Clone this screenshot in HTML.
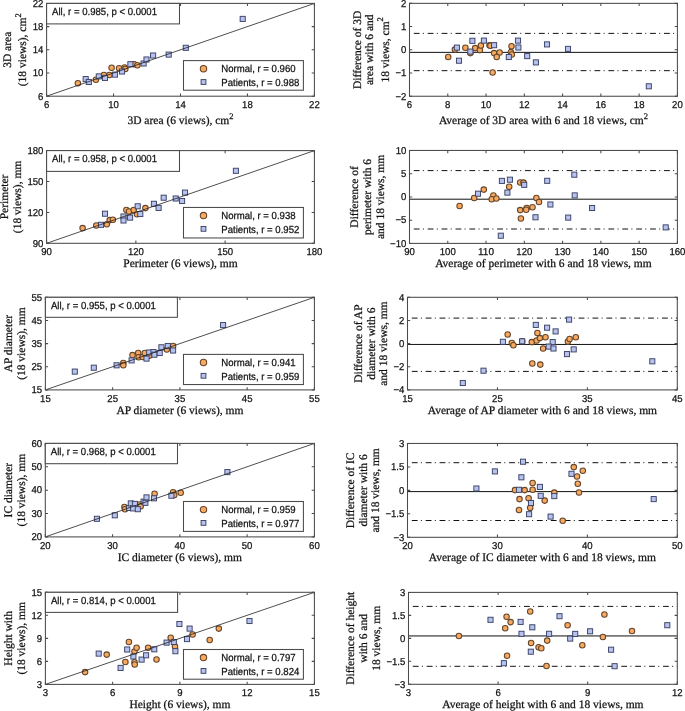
<!DOCTYPE html>
<html><head><meta charset="utf-8"><style>
html,body{margin:0;padding:0;background:#fff;}
svg{display:block;}
text{fill:#111;stroke:#111;stroke-width:0.25px;text-rendering:geometricPrecision;}
svg{will-change:transform;}
</style></head><body>
<svg width="685" height="711" viewBox="0 0 685 711">
<rect width="685" height="711" fill="#fff"/>
<circle cx="77.90" cy="83.20" r="2.75" fill="#F7A960" stroke="#64442a" stroke-width="1.05"/>
<circle cx="95.90" cy="79.70" r="2.75" fill="#F7A960" stroke="#64442a" stroke-width="1.05"/>
<circle cx="103.90" cy="75.00" r="2.75" fill="#F7A960" stroke="#64442a" stroke-width="1.05"/>
<circle cx="109.40" cy="75.00" r="2.75" fill="#F7A960" stroke="#64442a" stroke-width="1.05"/>
<circle cx="111.60" cy="67.70" r="2.75" fill="#F7A960" stroke="#64442a" stroke-width="1.05"/>
<circle cx="119.10" cy="68.20" r="2.75" fill="#F7A960" stroke="#64442a" stroke-width="1.05"/>
<circle cx="124.60" cy="67.50" r="2.75" fill="#F7A960" stroke="#64442a" stroke-width="1.05"/>
<circle cx="125.30" cy="69.00" r="2.75" fill="#F7A960" stroke="#64442a" stroke-width="1.05"/>
<circle cx="134.10" cy="64.20" r="2.75" fill="#F7A960" stroke="#64442a" stroke-width="1.05"/>
<circle cx="137.40" cy="65.30" r="2.75" fill="#F7A960" stroke="#64442a" stroke-width="1.05"/>
<rect x="83.15" y="76.55" width="5.1" height="5.1" fill="#B7C2EE" stroke="#3a4266" stroke-width="0.95"/>
<rect x="86.25" y="79.45" width="5.1" height="5.1" fill="#B7C2EE" stroke="#3a4266" stroke-width="0.95"/>
<rect x="96.25" y="73.85" width="5.1" height="5.1" fill="#B7C2EE" stroke="#3a4266" stroke-width="0.95"/>
<rect x="102.45" y="75.35" width="5.1" height="5.1" fill="#B7C2EE" stroke="#3a4266" stroke-width="0.95"/>
<rect x="112.35" y="72.05" width="5.1" height="5.1" fill="#B7C2EE" stroke="#3a4266" stroke-width="0.95"/>
<rect x="119.45" y="68.95" width="5.1" height="5.1" fill="#B7C2EE" stroke="#3a4266" stroke-width="0.95"/>
<rect x="127.85" y="61.65" width="5.1" height="5.1" fill="#B7C2EE" stroke="#3a4266" stroke-width="0.95"/>
<rect x="141.05" y="60.95" width="5.1" height="5.1" fill="#B7C2EE" stroke="#3a4266" stroke-width="0.95"/>
<rect x="143.95" y="56.95" width="5.1" height="5.1" fill="#B7C2EE" stroke="#3a4266" stroke-width="0.95"/>
<rect x="150.55" y="52.95" width="5.1" height="5.1" fill="#B7C2EE" stroke="#3a4266" stroke-width="0.95"/>
<rect x="166.15" y="52.05" width="5.1" height="5.1" fill="#B7C2EE" stroke="#3a4266" stroke-width="0.95"/>
<rect x="183.25" y="45.25" width="5.1" height="5.1" fill="#B7C2EE" stroke="#3a4266" stroke-width="0.95"/>
<rect x="240.15" y="16.35" width="5.1" height="5.1" fill="#B7C2EE" stroke="#3a4266" stroke-width="0.95"/>
<line x1="46.60" y1="96.20" x2="314.40" y2="3.40" stroke="#222" stroke-width="0.8"/>
<path d="M46.60,96.20v-2.7M46.60,3.40v2.7M113.55,96.20v-2.7M113.55,3.40v2.7M180.50,96.20v-2.7M180.50,3.40v2.7M247.45,96.20v-2.7M247.45,3.40v2.7M314.40,96.20v-2.7M314.40,3.40v2.7M46.60,96.20h2.7M314.40,96.20h-2.7M46.60,73.00h2.7M314.40,73.00h-2.7M46.60,49.80h2.7M314.40,49.80h-2.7M46.60,26.60h2.7M314.40,26.60h-2.7M46.60,3.40h2.7M314.40,3.40h-2.7" stroke="#4a4a4a" stroke-width="1.05" fill="none"/>
<rect x="46.60" y="3.40" width="267.80" height="92.80" fill="none" stroke="#4a4a4a" stroke-width="1.05"/>
<text x="46.60" y="108.20" font-size="10.0" font-family='"Liberation Sans", sans-serif' text-anchor="middle"  textLength="5.33" lengthAdjust="spacingAndGlyphs">6</text>
<text x="113.55" y="108.20" font-size="10.0" font-family='"Liberation Sans", sans-serif' text-anchor="middle"  textLength="10.66" lengthAdjust="spacingAndGlyphs">10</text>
<text x="180.50" y="108.20" font-size="10.0" font-family='"Liberation Sans", sans-serif' text-anchor="middle"  textLength="10.66" lengthAdjust="spacingAndGlyphs">14</text>
<text x="247.45" y="108.20" font-size="10.0" font-family='"Liberation Sans", sans-serif' text-anchor="middle"  textLength="10.66" lengthAdjust="spacingAndGlyphs">18</text>
<text x="314.40" y="108.20" font-size="10.0" font-family='"Liberation Sans", sans-serif' text-anchor="middle"  textLength="10.66" lengthAdjust="spacingAndGlyphs">22</text>
<text x="43.40" y="99.50" font-size="10.0" font-family='"Liberation Sans", sans-serif' text-anchor="end"  textLength="5.33" lengthAdjust="spacingAndGlyphs">6</text>
<text x="43.40" y="76.30" font-size="10.0" font-family='"Liberation Sans", sans-serif' text-anchor="end"  textLength="10.66" lengthAdjust="spacingAndGlyphs">10</text>
<text x="43.40" y="53.10" font-size="10.0" font-family='"Liberation Sans", sans-serif' text-anchor="end"  textLength="10.66" lengthAdjust="spacingAndGlyphs">14</text>
<text x="43.40" y="29.90" font-size="10.0" font-family='"Liberation Sans", sans-serif' text-anchor="end"  textLength="10.66" lengthAdjust="spacingAndGlyphs">18</text>
<text x="43.40" y="6.70" font-size="10.0" font-family='"Liberation Sans", sans-serif' text-anchor="end"  textLength="10.66" lengthAdjust="spacingAndGlyphs">22</text>
<rect x="46.60" y="3.40" width="132.90" height="20.50" fill="#fff" stroke="#4a4a4a" stroke-width="1.05"/>
<text x="52.10" y="14.60" font-size="10.2" font-family='"Liberation Sans", sans-serif' text-anchor="start"  textLength="104.92" lengthAdjust="spacingAndGlyphs">All, r = 0.985, p &lt; 0.0001</text>
<rect x="183.50" y="60.60" width="119.90" height="29.60" fill="#fff" stroke="#4a4a4a" stroke-width="1.05"/>
<circle cx="203.50" cy="68.70" r="3.2" fill="#F7A960" stroke="#64442a" stroke-width="1.05"/>
<rect x="201.10" y="79.60" width="4.8" height="4.8" fill="#B7C2EE" stroke="#3a4266" stroke-width="0.95"/>
<text x="221.30" y="72.40" font-size="10.2" font-family='"Liberation Sans", sans-serif' text-anchor="start"  textLength="74.28" lengthAdjust="spacingAndGlyphs">Normal, r = 0.960</text>
<text x="221.30" y="85.80" font-size="10.2" font-family='"Liberation Sans", sans-serif' text-anchor="start"  textLength="78.02" lengthAdjust="spacingAndGlyphs">Patients, r = 0.988</text>
<text x="180.50" y="124.00" font-size="11.5" font-family='"Liberation Serif", serif' text-anchor="middle" >3D area (6 views), cm<tspan dy="-5.3" font-size="8.5">2</tspan></text>
<text transform="translate(10.90,49.80) rotate(-90)" font-size="11.5" font-family='"Liberation Serif", serif' text-anchor="middle">3D area</text>
<text transform="translate(26.30,49.80) rotate(-90)" font-size="11.5" font-family='"Liberation Serif", serif' text-anchor="middle">(18 views), cm<tspan dy="-5.3" font-size="8.5">2</tspan></text>
<circle cx="82.60" cy="228.10" r="2.75" fill="#F7A960" stroke="#64442a" stroke-width="1.05"/>
<circle cx="96.30" cy="225.40" r="2.75" fill="#F7A960" stroke="#64442a" stroke-width="1.05"/>
<circle cx="106.80" cy="224.20" r="2.75" fill="#F7A960" stroke="#64442a" stroke-width="1.05"/>
<circle cx="109.70" cy="220.10" r="2.75" fill="#F7A960" stroke="#64442a" stroke-width="1.05"/>
<circle cx="112.90" cy="219.80" r="2.75" fill="#F7A960" stroke="#64442a" stroke-width="1.05"/>
<circle cx="126.40" cy="210.00" r="2.75" fill="#F7A960" stroke="#64442a" stroke-width="1.05"/>
<circle cx="129.00" cy="211.40" r="2.75" fill="#F7A960" stroke="#64442a" stroke-width="1.05"/>
<circle cx="133.70" cy="210.00" r="2.75" fill="#F7A960" stroke="#64442a" stroke-width="1.05"/>
<circle cx="137.00" cy="214.30" r="2.75" fill="#F7A960" stroke="#64442a" stroke-width="1.05"/>
<circle cx="145.40" cy="208.10" r="2.75" fill="#F7A960" stroke="#64442a" stroke-width="1.05"/>
<rect x="98.45" y="222.25" width="5.1" height="5.1" fill="#B7C2EE" stroke="#3a4266" stroke-width="0.95"/>
<rect x="102.45" y="211.15" width="5.1" height="5.1" fill="#B7C2EE" stroke="#3a4266" stroke-width="0.95"/>
<rect x="120.95" y="213.95" width="5.1" height="5.1" fill="#B7C2EE" stroke="#3a4266" stroke-width="0.95"/>
<rect x="120.95" y="217.95" width="5.1" height="5.1" fill="#B7C2EE" stroke="#3a4266" stroke-width="0.95"/>
<rect x="127.55" y="215.05" width="5.1" height="5.1" fill="#B7C2EE" stroke="#3a4266" stroke-width="0.95"/>
<rect x="135.15" y="203.75" width="5.1" height="5.1" fill="#B7C2EE" stroke="#3a4266" stroke-width="0.95"/>
<rect x="137.75" y="211.45" width="5.1" height="5.1" fill="#B7C2EE" stroke="#3a4266" stroke-width="0.95"/>
<rect x="151.35" y="201.25" width="5.1" height="5.1" fill="#B7C2EE" stroke="#3a4266" stroke-width="0.95"/>
<rect x="156.05" y="205.35" width="5.1" height="5.1" fill="#B7C2EE" stroke="#3a4266" stroke-width="0.95"/>
<rect x="161.15" y="195.15" width="5.1" height="5.1" fill="#B7C2EE" stroke="#3a4266" stroke-width="0.95"/>
<rect x="173.15" y="195.95" width="5.1" height="5.1" fill="#B7C2EE" stroke="#3a4266" stroke-width="0.95"/>
<rect x="179.55" y="198.45" width="5.1" height="5.1" fill="#B7C2EE" stroke="#3a4266" stroke-width="0.95"/>
<rect x="182.45" y="190.05" width="5.1" height="5.1" fill="#B7C2EE" stroke="#3a4266" stroke-width="0.95"/>
<rect x="233.35" y="168.25" width="5.1" height="5.1" fill="#B7C2EE" stroke="#3a4266" stroke-width="0.95"/>
<line x1="46.60" y1="243.30" x2="314.40" y2="150.60" stroke="#222" stroke-width="0.8"/>
<path d="M46.60,243.30v-2.7M46.60,150.60v2.7M135.87,243.30v-2.7M135.87,150.60v2.7M225.13,243.30v-2.7M225.13,150.60v2.7M314.40,243.30v-2.7M314.40,150.60v2.7M46.60,243.30h2.7M314.40,243.30h-2.7M46.60,212.40h2.7M314.40,212.40h-2.7M46.60,181.50h2.7M314.40,181.50h-2.7M46.60,150.60h2.7M314.40,150.60h-2.7" stroke="#4a4a4a" stroke-width="1.05" fill="none"/>
<rect x="46.60" y="150.60" width="267.80" height="92.70" fill="none" stroke="#4a4a4a" stroke-width="1.05"/>
<text x="46.60" y="255.30" font-size="10.0" font-family='"Liberation Sans", sans-serif' text-anchor="middle"  textLength="10.66" lengthAdjust="spacingAndGlyphs">90</text>
<text x="135.87" y="255.30" font-size="10.0" font-family='"Liberation Sans", sans-serif' text-anchor="middle"  textLength="15.98" lengthAdjust="spacingAndGlyphs">120</text>
<text x="225.13" y="255.30" font-size="10.0" font-family='"Liberation Sans", sans-serif' text-anchor="middle"  textLength="15.98" lengthAdjust="spacingAndGlyphs">150</text>
<text x="314.40" y="255.30" font-size="10.0" font-family='"Liberation Sans", sans-serif' text-anchor="middle"  textLength="15.98" lengthAdjust="spacingAndGlyphs">180</text>
<text x="43.40" y="246.60" font-size="10.0" font-family='"Liberation Sans", sans-serif' text-anchor="end"  textLength="10.66" lengthAdjust="spacingAndGlyphs">90</text>
<text x="43.40" y="215.70" font-size="10.0" font-family='"Liberation Sans", sans-serif' text-anchor="end"  textLength="15.98" lengthAdjust="spacingAndGlyphs">120</text>
<text x="43.40" y="184.80" font-size="10.0" font-family='"Liberation Sans", sans-serif' text-anchor="end"  textLength="15.98" lengthAdjust="spacingAndGlyphs">150</text>
<text x="43.40" y="153.90" font-size="10.0" font-family='"Liberation Sans", sans-serif' text-anchor="end"  textLength="15.98" lengthAdjust="spacingAndGlyphs">180</text>
<rect x="46.60" y="150.60" width="132.90" height="20.80" fill="#fff" stroke="#4a4a4a" stroke-width="1.05"/>
<text x="52.10" y="161.80" font-size="10.2" font-family='"Liberation Sans", sans-serif' text-anchor="start"  textLength="104.92" lengthAdjust="spacingAndGlyphs">All, r = 0.958, p &lt; 0.0001</text>
<rect x="183.50" y="207.45" width="119.90" height="30.52" fill="#fff" stroke="#4a4a4a" stroke-width="1.05"/>
<circle cx="203.50" cy="215.55" r="3.2" fill="#F7A960" stroke="#64442a" stroke-width="1.05"/>
<rect x="201.10" y="226.45" width="4.8" height="4.8" fill="#B7C2EE" stroke="#3a4266" stroke-width="0.95"/>
<text x="221.30" y="219.25" font-size="10.2" font-family='"Liberation Sans", sans-serif' text-anchor="start"  textLength="74.28" lengthAdjust="spacingAndGlyphs">Normal, r = 0.938</text>
<text x="221.30" y="232.65" font-size="10.2" font-family='"Liberation Sans", sans-serif' text-anchor="start"  textLength="78.02" lengthAdjust="spacingAndGlyphs">Patients, r = 0.952</text>
<text x="180.50" y="267.20" font-size="11.5" font-family='"Liberation Serif", serif' text-anchor="middle" >Perimeter (6 views), mm</text>
<text transform="translate(7.90,196.95) rotate(-90)" font-size="11.5" font-family='"Liberation Serif", serif' text-anchor="middle">Perimeter</text>
<text transform="translate(20.60,196.95) rotate(-90)" font-size="11.5" font-family='"Liberation Serif", serif' text-anchor="middle">(18 views), mm</text>
<circle cx="123.30" cy="363.00" r="2.75" fill="#F7A960" stroke="#64442a" stroke-width="1.05"/>
<circle cx="123.30" cy="365.20" r="2.75" fill="#F7A960" stroke="#64442a" stroke-width="1.05"/>
<circle cx="132.50" cy="355.10" r="2.75" fill="#F7A960" stroke="#64442a" stroke-width="1.05"/>
<circle cx="138.20" cy="353.00" r="2.75" fill="#F7A960" stroke="#64442a" stroke-width="1.05"/>
<circle cx="138.60" cy="357.30" r="2.75" fill="#F7A960" stroke="#64442a" stroke-width="1.05"/>
<circle cx="142.60" cy="356.90" r="2.75" fill="#F7A960" stroke="#64442a" stroke-width="1.05"/>
<circle cx="144.80" cy="353.00" r="2.75" fill="#F7A960" stroke="#64442a" stroke-width="1.05"/>
<circle cx="149.60" cy="355.60" r="2.75" fill="#F7A960" stroke="#64442a" stroke-width="1.05"/>
<circle cx="166.80" cy="349.40" r="2.75" fill="#F7A960" stroke="#64442a" stroke-width="1.05"/>
<circle cx="173.10" cy="346.00" r="2.75" fill="#F7A960" stroke="#64442a" stroke-width="1.05"/>
<rect x="72.25" y="369.05" width="5.1" height="5.1" fill="#B7C2EE" stroke="#3a4266" stroke-width="0.95"/>
<rect x="91.25" y="365.15" width="5.1" height="5.1" fill="#B7C2EE" stroke="#3a4266" stroke-width="0.95"/>
<rect x="114.05" y="362.75" width="5.1" height="5.1" fill="#B7C2EE" stroke="#3a4266" stroke-width="0.95"/>
<rect x="129.05" y="357.85" width="5.1" height="5.1" fill="#B7C2EE" stroke="#3a4266" stroke-width="0.95"/>
<rect x="143.95" y="356.05" width="5.1" height="5.1" fill="#B7C2EE" stroke="#3a4266" stroke-width="0.95"/>
<rect x="146.65" y="349.95" width="5.1" height="5.1" fill="#B7C2EE" stroke="#3a4266" stroke-width="0.95"/>
<rect x="150.95" y="349.55" width="5.1" height="5.1" fill="#B7C2EE" stroke="#3a4266" stroke-width="0.95"/>
<rect x="151.85" y="352.15" width="5.1" height="5.1" fill="#B7C2EE" stroke="#3a4266" stroke-width="0.95"/>
<rect x="157.15" y="350.45" width="5.1" height="5.1" fill="#B7C2EE" stroke="#3a4266" stroke-width="0.95"/>
<rect x="158.85" y="344.75" width="5.1" height="5.1" fill="#B7C2EE" stroke="#3a4266" stroke-width="0.95"/>
<rect x="165.25" y="343.45" width="5.1" height="5.1" fill="#B7C2EE" stroke="#3a4266" stroke-width="0.95"/>
<rect x="170.55" y="347.95" width="5.1" height="5.1" fill="#B7C2EE" stroke="#3a4266" stroke-width="0.95"/>
<rect x="220.55" y="322.55" width="5.1" height="5.1" fill="#B7C2EE" stroke="#3a4266" stroke-width="0.95"/>
<line x1="45.40" y1="389.90" x2="314.40" y2="297.30" stroke="#222" stroke-width="0.8"/>
<path d="M45.40,389.90v-2.7M45.40,297.30v2.7M112.65,389.90v-2.7M112.65,297.30v2.7M179.90,389.90v-2.7M179.90,297.30v2.7M247.15,389.90v-2.7M247.15,297.30v2.7M314.40,389.90v-2.7M314.40,297.30v2.7M45.40,389.90h2.7M314.40,389.90h-2.7M45.40,366.75h2.7M314.40,366.75h-2.7M45.40,343.60h2.7M314.40,343.60h-2.7M45.40,320.45h2.7M314.40,320.45h-2.7M45.40,297.30h2.7M314.40,297.30h-2.7" stroke="#4a4a4a" stroke-width="1.05" fill="none"/>
<rect x="45.40" y="297.30" width="269.00" height="92.60" fill="none" stroke="#4a4a4a" stroke-width="1.05"/>
<text x="45.40" y="401.90" font-size="10.0" font-family='"Liberation Sans", sans-serif' text-anchor="middle"  textLength="10.66" lengthAdjust="spacingAndGlyphs">15</text>
<text x="112.65" y="401.90" font-size="10.0" font-family='"Liberation Sans", sans-serif' text-anchor="middle"  textLength="10.66" lengthAdjust="spacingAndGlyphs">25</text>
<text x="179.90" y="401.90" font-size="10.0" font-family='"Liberation Sans", sans-serif' text-anchor="middle"  textLength="10.66" lengthAdjust="spacingAndGlyphs">35</text>
<text x="247.15" y="401.90" font-size="10.0" font-family='"Liberation Sans", sans-serif' text-anchor="middle"  textLength="10.66" lengthAdjust="spacingAndGlyphs">45</text>
<text x="314.40" y="401.90" font-size="10.0" font-family='"Liberation Sans", sans-serif' text-anchor="middle"  textLength="10.66" lengthAdjust="spacingAndGlyphs">55</text>
<text x="42.20" y="393.20" font-size="10.0" font-family='"Liberation Sans", sans-serif' text-anchor="end"  textLength="10.66" lengthAdjust="spacingAndGlyphs">15</text>
<text x="42.20" y="370.05" font-size="10.0" font-family='"Liberation Sans", sans-serif' text-anchor="end"  textLength="10.66" lengthAdjust="spacingAndGlyphs">25</text>
<text x="42.20" y="346.90" font-size="10.0" font-family='"Liberation Sans", sans-serif' text-anchor="end"  textLength="10.66" lengthAdjust="spacingAndGlyphs">35</text>
<text x="42.20" y="323.75" font-size="10.0" font-family='"Liberation Sans", sans-serif' text-anchor="end"  textLength="10.66" lengthAdjust="spacingAndGlyphs">45</text>
<text x="42.20" y="300.60" font-size="10.0" font-family='"Liberation Sans", sans-serif' text-anchor="end"  textLength="10.66" lengthAdjust="spacingAndGlyphs">55</text>
<rect x="45.40" y="297.30" width="132.00" height="20.00" fill="#fff" stroke="#4a4a4a" stroke-width="1.05"/>
<text x="50.90" y="308.50" font-size="10.2" font-family='"Liberation Sans", sans-serif' text-anchor="start"  textLength="104.92" lengthAdjust="spacingAndGlyphs">All, r = 0.955, p &lt; 0.0001</text>
<rect x="183.50" y="354.40" width="119.90" height="30.15" fill="#fff" stroke="#4a4a4a" stroke-width="1.05"/>
<circle cx="203.50" cy="362.50" r="3.2" fill="#F7A960" stroke="#64442a" stroke-width="1.05"/>
<rect x="201.10" y="373.40" width="4.8" height="4.8" fill="#B7C2EE" stroke="#3a4266" stroke-width="0.95"/>
<text x="221.30" y="366.20" font-size="10.2" font-family='"Liberation Sans", sans-serif' text-anchor="start"  textLength="74.28" lengthAdjust="spacingAndGlyphs">Normal, r = 0.941</text>
<text x="221.30" y="379.60" font-size="10.2" font-family='"Liberation Sans", sans-serif' text-anchor="start"  textLength="78.02" lengthAdjust="spacingAndGlyphs">Patients, r = 0.959</text>
<text x="179.90" y="413.80" font-size="11.5" font-family='"Liberation Serif", serif' text-anchor="middle" >AP diameter (6 views), mm</text>
<text transform="translate(11.60,343.60) rotate(-90)" font-size="11.5" font-family='"Liberation Serif", serif' text-anchor="middle">AP diameter</text>
<text transform="translate(25.00,343.60) rotate(-90)" font-size="11.5" font-family='"Liberation Serif", serif' text-anchor="middle">(18 views), mm</text>
<circle cx="124.40" cy="506.90" r="2.75" fill="#F7A960" stroke="#64442a" stroke-width="1.05"/>
<circle cx="125.00" cy="509.20" r="2.75" fill="#F7A960" stroke="#64442a" stroke-width="1.05"/>
<circle cx="139.60" cy="504.50" r="2.75" fill="#F7A960" stroke="#64442a" stroke-width="1.05"/>
<circle cx="140.70" cy="506.30" r="2.75" fill="#F7A960" stroke="#64442a" stroke-width="1.05"/>
<circle cx="154.60" cy="493.80" r="2.75" fill="#F7A960" stroke="#64442a" stroke-width="1.05"/>
<circle cx="173.10" cy="492.20" r="2.75" fill="#F7A960" stroke="#64442a" stroke-width="1.05"/>
<circle cx="174.30" cy="495.10" r="2.75" fill="#F7A960" stroke="#64442a" stroke-width="1.05"/>
<circle cx="180.70" cy="492.80" r="2.75" fill="#F7A960" stroke="#64442a" stroke-width="1.05"/>
<rect x="94.35" y="516.25" width="5.1" height="5.1" fill="#B7C2EE" stroke="#3a4266" stroke-width="0.95"/>
<rect x="112.25" y="512.75" width="5.1" height="5.1" fill="#B7C2EE" stroke="#3a4266" stroke-width="0.95"/>
<rect x="126.55" y="505.45" width="5.1" height="5.1" fill="#B7C2EE" stroke="#3a4266" stroke-width="0.95"/>
<rect x="128.25" y="500.85" width="5.1" height="5.1" fill="#B7C2EE" stroke="#3a4266" stroke-width="0.95"/>
<rect x="132.35" y="501.35" width="5.1" height="5.1" fill="#B7C2EE" stroke="#3a4266" stroke-width="0.95"/>
<rect x="130.55" y="505.85" width="5.1" height="5.1" fill="#B7C2EE" stroke="#3a4266" stroke-width="0.95"/>
<rect x="135.25" y="506.65" width="5.1" height="5.1" fill="#B7C2EE" stroke="#3a4266" stroke-width="0.95"/>
<rect x="141.05" y="499.05" width="5.1" height="5.1" fill="#B7C2EE" stroke="#3a4266" stroke-width="0.95"/>
<rect x="143.95" y="494.85" width="5.1" height="5.1" fill="#B7C2EE" stroke="#3a4266" stroke-width="0.95"/>
<rect x="142.85" y="500.25" width="5.1" height="5.1" fill="#B7C2EE" stroke="#3a4266" stroke-width="0.95"/>
<rect x="151.45" y="495.75" width="5.1" height="5.1" fill="#B7C2EE" stroke="#3a4266" stroke-width="0.95"/>
<rect x="168.85" y="493.15" width="5.1" height="5.1" fill="#B7C2EE" stroke="#3a4266" stroke-width="0.95"/>
<rect x="224.85" y="469.55" width="5.1" height="5.1" fill="#B7C2EE" stroke="#3a4266" stroke-width="0.95"/>
<line x1="45.30" y1="536.90" x2="314.40" y2="443.40" stroke="#222" stroke-width="0.8"/>
<path d="M45.30,536.90v-2.7M45.30,443.40v2.7M112.57,536.90v-2.7M112.57,443.40v2.7M179.85,536.90v-2.7M179.85,443.40v2.7M247.12,536.90v-2.7M247.12,443.40v2.7M314.40,536.90v-2.7M314.40,443.40v2.7M45.30,536.90h2.7M314.40,536.90h-2.7M45.30,513.52h2.7M314.40,513.52h-2.7M45.30,490.15h2.7M314.40,490.15h-2.7M45.30,466.77h2.7M314.40,466.77h-2.7M45.30,443.40h2.7M314.40,443.40h-2.7" stroke="#4a4a4a" stroke-width="1.05" fill="none"/>
<rect x="45.30" y="443.40" width="269.10" height="93.50" fill="none" stroke="#4a4a4a" stroke-width="1.05"/>
<text x="45.30" y="548.90" font-size="10.0" font-family='"Liberation Sans", sans-serif' text-anchor="middle"  textLength="10.66" lengthAdjust="spacingAndGlyphs">20</text>
<text x="112.57" y="548.90" font-size="10.0" font-family='"Liberation Sans", sans-serif' text-anchor="middle"  textLength="10.66" lengthAdjust="spacingAndGlyphs">30</text>
<text x="179.85" y="548.90" font-size="10.0" font-family='"Liberation Sans", sans-serif' text-anchor="middle"  textLength="10.66" lengthAdjust="spacingAndGlyphs">40</text>
<text x="247.12" y="548.90" font-size="10.0" font-family='"Liberation Sans", sans-serif' text-anchor="middle"  textLength="10.66" lengthAdjust="spacingAndGlyphs">50</text>
<text x="314.40" y="548.90" font-size="10.0" font-family='"Liberation Sans", sans-serif' text-anchor="middle"  textLength="10.66" lengthAdjust="spacingAndGlyphs">60</text>
<text x="42.10" y="540.20" font-size="10.0" font-family='"Liberation Sans", sans-serif' text-anchor="end"  textLength="10.66" lengthAdjust="spacingAndGlyphs">20</text>
<text x="42.10" y="516.82" font-size="10.0" font-family='"Liberation Sans", sans-serif' text-anchor="end"  textLength="10.66" lengthAdjust="spacingAndGlyphs">30</text>
<text x="42.10" y="493.45" font-size="10.0" font-family='"Liberation Sans", sans-serif' text-anchor="end"  textLength="10.66" lengthAdjust="spacingAndGlyphs">40</text>
<text x="42.10" y="470.07" font-size="10.0" font-family='"Liberation Sans", sans-serif' text-anchor="end"  textLength="10.66" lengthAdjust="spacingAndGlyphs">50</text>
<text x="42.10" y="446.70" font-size="10.0" font-family='"Liberation Sans", sans-serif' text-anchor="end"  textLength="10.66" lengthAdjust="spacingAndGlyphs">60</text>
<rect x="45.30" y="443.40" width="132.20" height="20.30" fill="#fff" stroke="#4a4a4a" stroke-width="1.05"/>
<text x="50.80" y="454.60" font-size="10.2" font-family='"Liberation Sans", sans-serif' text-anchor="start"  textLength="104.92" lengthAdjust="spacingAndGlyphs">All, r = 0.968, p &lt; 0.0001</text>
<rect x="183.50" y="501.50" width="119.90" height="29.90" fill="#fff" stroke="#4a4a4a" stroke-width="1.05"/>
<circle cx="203.50" cy="509.60" r="3.2" fill="#F7A960" stroke="#64442a" stroke-width="1.05"/>
<rect x="201.10" y="520.50" width="4.8" height="4.8" fill="#B7C2EE" stroke="#3a4266" stroke-width="0.95"/>
<text x="221.30" y="513.30" font-size="10.2" font-family='"Liberation Sans", sans-serif' text-anchor="start"  textLength="74.28" lengthAdjust="spacingAndGlyphs">Normal, r = 0.959</text>
<text x="221.30" y="526.70" font-size="10.2" font-family='"Liberation Sans", sans-serif' text-anchor="start"  textLength="78.02" lengthAdjust="spacingAndGlyphs">Patients, r = 0.977</text>
<text x="179.85" y="560.80" font-size="11.5" font-family='"Liberation Serif", serif' text-anchor="middle" >IC diameter (6 views), mm</text>
<text transform="translate(11.80,490.15) rotate(-90)" font-size="11.5" font-family='"Liberation Serif", serif' text-anchor="middle">IC diameter</text>
<text transform="translate(25.20,490.15) rotate(-90)" font-size="11.5" font-family='"Liberation Serif", serif' text-anchor="middle">(18 views), mm</text>
<circle cx="85.10" cy="672.10" r="2.75" fill="#F7A960" stroke="#64442a" stroke-width="1.05"/>
<circle cx="106.70" cy="654.60" r="2.75" fill="#F7A960" stroke="#64442a" stroke-width="1.05"/>
<circle cx="128.90" cy="641.90" r="2.75" fill="#F7A960" stroke="#64442a" stroke-width="1.05"/>
<circle cx="125.40" cy="661.90" r="2.75" fill="#F7A960" stroke="#64442a" stroke-width="1.05"/>
<circle cx="134.50" cy="651.40" r="2.75" fill="#F7A960" stroke="#64442a" stroke-width="1.05"/>
<circle cx="136.60" cy="647.70" r="2.75" fill="#F7A960" stroke="#64442a" stroke-width="1.05"/>
<circle cx="134.50" cy="662.30" r="2.75" fill="#F7A960" stroke="#64442a" stroke-width="1.05"/>
<circle cx="134.70" cy="664.50" r="2.75" fill="#F7A960" stroke="#64442a" stroke-width="1.05"/>
<circle cx="148.10" cy="647.80" r="2.75" fill="#F7A960" stroke="#64442a" stroke-width="1.05"/>
<circle cx="156.50" cy="659.50" r="2.75" fill="#F7A960" stroke="#64442a" stroke-width="1.05"/>
<circle cx="170.70" cy="637.70" r="2.75" fill="#F7A960" stroke="#64442a" stroke-width="1.05"/>
<circle cx="175.00" cy="646.40" r="2.75" fill="#F7A960" stroke="#64442a" stroke-width="1.05"/>
<circle cx="192.60" cy="634.50" r="2.75" fill="#F7A960" stroke="#64442a" stroke-width="1.05"/>
<circle cx="209.70" cy="640.00" r="2.75" fill="#F7A960" stroke="#64442a" stroke-width="1.05"/>
<circle cx="218.80" cy="628.60" r="2.75" fill="#F7A960" stroke="#64442a" stroke-width="1.05"/>
<rect x="96.15" y="651.05" width="5.1" height="5.1" fill="#B7C2EE" stroke="#3a4266" stroke-width="0.95"/>
<rect x="124.65" y="646.95" width="5.1" height="5.1" fill="#B7C2EE" stroke="#3a4266" stroke-width="0.95"/>
<rect x="130.85" y="653.95" width="5.1" height="5.1" fill="#B7C2EE" stroke="#3a4266" stroke-width="0.95"/>
<rect x="118.05" y="665.35" width="5.1" height="5.1" fill="#B7C2EE" stroke="#3a4266" stroke-width="0.95"/>
<rect x="139.05" y="657.05" width="5.1" height="5.1" fill="#B7C2EE" stroke="#3a4266" stroke-width="0.95"/>
<rect x="143.55" y="652.75" width="5.1" height="5.1" fill="#B7C2EE" stroke="#3a4266" stroke-width="0.95"/>
<rect x="151.75" y="646.75" width="5.1" height="5.1" fill="#B7C2EE" stroke="#3a4266" stroke-width="0.95"/>
<rect x="176.85" y="621.45" width="5.1" height="5.1" fill="#B7C2EE" stroke="#3a4266" stroke-width="0.95"/>
<rect x="164.05" y="640.05" width="5.1" height="5.1" fill="#B7C2EE" stroke="#3a4266" stroke-width="0.95"/>
<rect x="171.25" y="639.45" width="5.1" height="5.1" fill="#B7C2EE" stroke="#3a4266" stroke-width="0.95"/>
<rect x="172.85" y="648.65" width="5.1" height="5.1" fill="#B7C2EE" stroke="#3a4266" stroke-width="0.95"/>
<rect x="187.05" y="626.05" width="5.1" height="5.1" fill="#B7C2EE" stroke="#3a4266" stroke-width="0.95"/>
<rect x="184.45" y="636.55" width="5.1" height="5.1" fill="#B7C2EE" stroke="#3a4266" stroke-width="0.95"/>
<rect x="246.95" y="618.45" width="5.1" height="5.1" fill="#B7C2EE" stroke="#3a4266" stroke-width="0.95"/>
<line x1="45.40" y1="684.40" x2="314.40" y2="592.30" stroke="#222" stroke-width="0.8"/>
<path d="M45.40,684.40v-2.7M45.40,592.30v2.7M112.65,684.40v-2.7M112.65,592.30v2.7M179.90,684.40v-2.7M179.90,592.30v2.7M247.15,684.40v-2.7M247.15,592.30v2.7M314.40,684.40v-2.7M314.40,592.30v2.7M45.40,684.40h2.7M314.40,684.40h-2.7M45.40,661.38h2.7M314.40,661.38h-2.7M45.40,638.35h2.7M314.40,638.35h-2.7M45.40,615.32h2.7M314.40,615.32h-2.7M45.40,592.30h2.7M314.40,592.30h-2.7" stroke="#4a4a4a" stroke-width="1.05" fill="none"/>
<rect x="45.40" y="592.30" width="269.00" height="92.10" fill="none" stroke="#4a4a4a" stroke-width="1.05"/>
<text x="45.40" y="696.40" font-size="10.0" font-family='"Liberation Sans", sans-serif' text-anchor="middle"  textLength="5.33" lengthAdjust="spacingAndGlyphs">3</text>
<text x="112.65" y="696.40" font-size="10.0" font-family='"Liberation Sans", sans-serif' text-anchor="middle"  textLength="5.33" lengthAdjust="spacingAndGlyphs">6</text>
<text x="179.90" y="696.40" font-size="10.0" font-family='"Liberation Sans", sans-serif' text-anchor="middle"  textLength="5.33" lengthAdjust="spacingAndGlyphs">9</text>
<text x="247.15" y="696.40" font-size="10.0" font-family='"Liberation Sans", sans-serif' text-anchor="middle"  textLength="10.66" lengthAdjust="spacingAndGlyphs">12</text>
<text x="314.40" y="696.40" font-size="10.0" font-family='"Liberation Sans", sans-serif' text-anchor="middle"  textLength="10.66" lengthAdjust="spacingAndGlyphs">15</text>
<text x="42.20" y="687.70" font-size="10.0" font-family='"Liberation Sans", sans-serif' text-anchor="end"  textLength="5.33" lengthAdjust="spacingAndGlyphs">3</text>
<text x="42.20" y="664.67" font-size="10.0" font-family='"Liberation Sans", sans-serif' text-anchor="end"  textLength="5.33" lengthAdjust="spacingAndGlyphs">6</text>
<text x="42.20" y="641.65" font-size="10.0" font-family='"Liberation Sans", sans-serif' text-anchor="end"  textLength="5.33" lengthAdjust="spacingAndGlyphs">9</text>
<text x="42.20" y="618.62" font-size="10.0" font-family='"Liberation Sans", sans-serif' text-anchor="end"  textLength="10.66" lengthAdjust="spacingAndGlyphs">12</text>
<text x="42.20" y="595.60" font-size="10.0" font-family='"Liberation Sans", sans-serif' text-anchor="end"  textLength="10.66" lengthAdjust="spacingAndGlyphs">15</text>
<rect x="45.40" y="592.30" width="132.20" height="20.10" fill="#fff" stroke="#4a4a4a" stroke-width="1.05"/>
<text x="50.90" y="603.50" font-size="10.2" font-family='"Liberation Sans", sans-serif' text-anchor="start"  textLength="104.92" lengthAdjust="spacingAndGlyphs">All, r = 0.814, p &lt; 0.0001</text>
<rect x="183.50" y="649.50" width="119.90" height="29.70" fill="#fff" stroke="#4a4a4a" stroke-width="1.05"/>
<circle cx="203.50" cy="657.60" r="3.2" fill="#F7A960" stroke="#64442a" stroke-width="1.05"/>
<rect x="201.10" y="668.50" width="4.8" height="4.8" fill="#B7C2EE" stroke="#3a4266" stroke-width="0.95"/>
<text x="221.30" y="661.30" font-size="10.2" font-family='"Liberation Sans", sans-serif' text-anchor="start"  textLength="74.28" lengthAdjust="spacingAndGlyphs">Normal, r = 0.797</text>
<text x="221.30" y="674.70" font-size="10.2" font-family='"Liberation Sans", sans-serif' text-anchor="start"  textLength="78.02" lengthAdjust="spacingAndGlyphs">Patients, r = 0.824</text>
<text x="179.90" y="708.30" font-size="11.5" font-family='"Liberation Serif", serif' text-anchor="middle" >Height (6 views), mm</text>
<text transform="translate(11.60,638.35) rotate(-90)" font-size="11.5" font-family='"Liberation Serif", serif' text-anchor="middle">Height with</text>
<text transform="translate(25.00,638.35) rotate(-90)" font-size="11.5" font-family='"Liberation Serif", serif' text-anchor="middle">(18 views), mm</text>
<line x1="409.50" y1="52.37" x2="677.40" y2="52.37" stroke="#111" stroke-width="1"/>
<line x1="409.50" y1="70.66" x2="677.40" y2="70.66" stroke="#111" stroke-width="1" stroke-dasharray="5.8,3.3,1,3.8" stroke-dashoffset="9.6"/>
<line x1="409.50" y1="33.38" x2="677.40" y2="33.38" stroke="#111" stroke-width="1" stroke-dasharray="5.8,3.3,1,3.8" stroke-dashoffset="9.6"/>
<circle cx="448.20" cy="56.90" r="2.75" fill="#F7A960" stroke="#64442a" stroke-width="1.05"/>
<circle cx="454.90" cy="49.60" r="2.75" fill="#F7A960" stroke="#64442a" stroke-width="1.05"/>
<circle cx="465.40" cy="47.80" r="2.75" fill="#F7A960" stroke="#64442a" stroke-width="1.05"/>
<circle cx="470.40" cy="53.10" r="2.75" fill="#F7A960" stroke="#64442a" stroke-width="1.05"/>
<circle cx="475.20" cy="48.10" r="2.75" fill="#F7A960" stroke="#64442a" stroke-width="1.05"/>
<circle cx="479.90" cy="50.10" r="2.75" fill="#F7A960" stroke="#64442a" stroke-width="1.05"/>
<circle cx="480.90" cy="45.50" r="2.75" fill="#F7A960" stroke="#64442a" stroke-width="1.05"/>
<circle cx="489.50" cy="45.20" r="2.75" fill="#F7A960" stroke="#64442a" stroke-width="1.05"/>
<circle cx="490.40" cy="45.80" r="2.75" fill="#F7A960" stroke="#64442a" stroke-width="1.05"/>
<circle cx="494.10" cy="53.10" r="2.75" fill="#F7A960" stroke="#64442a" stroke-width="1.05"/>
<circle cx="499.60" cy="52.40" r="2.75" fill="#F7A960" stroke="#64442a" stroke-width="1.05"/>
<circle cx="496.70" cy="57.00" r="2.75" fill="#F7A960" stroke="#64442a" stroke-width="1.05"/>
<circle cx="511.50" cy="46.20" r="2.75" fill="#F7A960" stroke="#64442a" stroke-width="1.05"/>
<circle cx="510.80" cy="52.10" r="2.75" fill="#F7A960" stroke="#64442a" stroke-width="1.05"/>
<circle cx="511.80" cy="54.40" r="2.75" fill="#F7A960" stroke="#64442a" stroke-width="1.05"/>
<circle cx="492.60" cy="72.40" r="2.75" fill="#F7A960" stroke="#64442a" stroke-width="1.05"/>
<rect x="454.35" y="45.05" width="5.1" height="5.1" fill="#B7C2EE" stroke="#3a4266" stroke-width="0.95"/>
<rect x="456.45" y="58.15" width="5.1" height="5.1" fill="#B7C2EE" stroke="#3a4266" stroke-width="0.95"/>
<rect x="467.85" y="49.05" width="5.1" height="5.1" fill="#B7C2EE" stroke="#3a4266" stroke-width="0.95"/>
<rect x="469.85" y="38.25" width="5.1" height="5.1" fill="#B7C2EE" stroke="#3a4266" stroke-width="0.95"/>
<rect x="481.35" y="38.05" width="5.1" height="5.1" fill="#B7C2EE" stroke="#3a4266" stroke-width="0.95"/>
<rect x="491.55" y="42.65" width="5.1" height="5.1" fill="#B7C2EE" stroke="#3a4266" stroke-width="0.95"/>
<rect x="506.25" y="54.45" width="5.1" height="5.1" fill="#B7C2EE" stroke="#3a4266" stroke-width="0.95"/>
<rect x="515.45" y="38.05" width="5.1" height="5.1" fill="#B7C2EE" stroke="#3a4266" stroke-width="0.95"/>
<rect x="515.85" y="44.95" width="5.1" height="5.1" fill="#B7C2EE" stroke="#3a4266" stroke-width="0.95"/>
<rect x="524.65" y="53.55" width="5.1" height="5.1" fill="#B7C2EE" stroke="#3a4266" stroke-width="0.95"/>
<rect x="533.35" y="59.85" width="5.1" height="5.1" fill="#B7C2EE" stroke="#3a4266" stroke-width="0.95"/>
<rect x="544.45" y="41.85" width="5.1" height="5.1" fill="#B7C2EE" stroke="#3a4266" stroke-width="0.95"/>
<rect x="565.45" y="46.35" width="5.1" height="5.1" fill="#B7C2EE" stroke="#3a4266" stroke-width="0.95"/>
<rect x="646.25" y="83.75" width="5.1" height="5.1" fill="#B7C2EE" stroke="#3a4266" stroke-width="0.95"/>
<path d="M409.50,96.25v-2.7M409.50,3.35v2.7M447.77,96.25v-2.7M447.77,3.35v2.7M486.04,96.25v-2.7M486.04,3.35v2.7M524.31,96.25v-2.7M524.31,3.35v2.7M562.59,96.25v-2.7M562.59,3.35v2.7M600.86,96.25v-2.7M600.86,3.35v2.7M639.13,96.25v-2.7M639.13,3.35v2.7M677.40,96.25v-2.7M677.40,3.35v2.7M409.50,96.25h2.7M677.40,96.25h-2.7M409.50,73.03h2.7M677.40,73.03h-2.7M409.50,49.80h2.7M677.40,49.80h-2.7M409.50,26.57h2.7M677.40,26.57h-2.7M409.50,3.35h2.7M677.40,3.35h-2.7" stroke="#4a4a4a" stroke-width="1.05" fill="none"/>
<rect x="409.50" y="3.35" width="267.90" height="92.90" fill="none" stroke="#4a4a4a" stroke-width="1.05"/>
<text x="409.50" y="108.25" font-size="10.0" font-family='"Liberation Sans", sans-serif' text-anchor="middle"  textLength="5.33" lengthAdjust="spacingAndGlyphs">6</text>
<text x="447.77" y="108.25" font-size="10.0" font-family='"Liberation Sans", sans-serif' text-anchor="middle"  textLength="5.33" lengthAdjust="spacingAndGlyphs">8</text>
<text x="486.04" y="108.25" font-size="10.0" font-family='"Liberation Sans", sans-serif' text-anchor="middle"  textLength="10.66" lengthAdjust="spacingAndGlyphs">10</text>
<text x="524.31" y="108.25" font-size="10.0" font-family='"Liberation Sans", sans-serif' text-anchor="middle"  textLength="10.66" lengthAdjust="spacingAndGlyphs">12</text>
<text x="562.59" y="108.25" font-size="10.0" font-family='"Liberation Sans", sans-serif' text-anchor="middle"  textLength="10.66" lengthAdjust="spacingAndGlyphs">14</text>
<text x="600.86" y="108.25" font-size="10.0" font-family='"Liberation Sans", sans-serif' text-anchor="middle"  textLength="10.66" lengthAdjust="spacingAndGlyphs">16</text>
<text x="639.13" y="108.25" font-size="10.0" font-family='"Liberation Sans", sans-serif' text-anchor="middle"  textLength="10.66" lengthAdjust="spacingAndGlyphs">18</text>
<text x="677.40" y="108.25" font-size="10.0" font-family='"Liberation Sans", sans-serif' text-anchor="middle"  textLength="10.66" lengthAdjust="spacingAndGlyphs">20</text>
<text x="406.30" y="99.55" font-size="10.0" font-family='"Liberation Sans", sans-serif' text-anchor="end"  textLength="10.92" lengthAdjust="spacingAndGlyphs">−2</text>
<text x="406.30" y="76.33" font-size="10.0" font-family='"Liberation Sans", sans-serif' text-anchor="end"  textLength="10.92" lengthAdjust="spacingAndGlyphs">−1</text>
<text x="406.30" y="53.10" font-size="10.0" font-family='"Liberation Sans", sans-serif' text-anchor="end"  textLength="5.33" lengthAdjust="spacingAndGlyphs">0</text>
<text x="406.30" y="29.87" font-size="10.0" font-family='"Liberation Sans", sans-serif' text-anchor="end"  textLength="5.33" lengthAdjust="spacingAndGlyphs">1</text>
<text x="406.30" y="6.65" font-size="10.0" font-family='"Liberation Sans", sans-serif' text-anchor="end"  textLength="5.33" lengthAdjust="spacingAndGlyphs">2</text>
<text x="543.45" y="124.05" font-size="11.5" font-family='"Liberation Serif", serif' text-anchor="middle" >Average of 3D area with 6 and 18 views, cm<tspan dy="-5.3" font-size="8.5">2</tspan></text>
<text transform="translate(360.80,49.80) rotate(-90)" font-size="11.5" font-family='"Liberation Serif", serif' text-anchor="middle">Difference of 3D</text>
<text transform="translate(373.30,49.80) rotate(-90)" font-size="11.5" font-family='"Liberation Serif", serif' text-anchor="middle">area with 6 and</text>
<text transform="translate(388.70,49.80) rotate(-90)" font-size="11.5" font-family='"Liberation Serif", serif' text-anchor="middle">18 views, cm<tspan dy="-5.3" font-size="8.5">2</tspan></text>
<line x1="409.50" y1="199.20" x2="677.40" y2="199.20" stroke="#111" stroke-width="1"/>
<line x1="409.50" y1="229.00" x2="677.40" y2="229.00" stroke="#111" stroke-width="1" stroke-dasharray="5.8,3.3,1,3.8" stroke-dashoffset="9.6"/>
<line x1="409.50" y1="170.60" x2="677.40" y2="170.60" stroke="#111" stroke-width="1" stroke-dasharray="5.8,3.3,1,3.8" stroke-dashoffset="9.6"/>
<circle cx="459.60" cy="205.90" r="2.75" fill="#F7A960" stroke="#64442a" stroke-width="1.05"/>
<circle cx="474.20" cy="198.00" r="2.75" fill="#F7A960" stroke="#64442a" stroke-width="1.05"/>
<circle cx="483.80" cy="189.60" r="2.75" fill="#F7A960" stroke="#64442a" stroke-width="1.05"/>
<circle cx="493.40" cy="195.40" r="2.75" fill="#F7A960" stroke="#64442a" stroke-width="1.05"/>
<circle cx="491.70" cy="199.30" r="2.75" fill="#F7A960" stroke="#64442a" stroke-width="1.05"/>
<circle cx="496.40" cy="198.40" r="2.75" fill="#F7A960" stroke="#64442a" stroke-width="1.05"/>
<circle cx="509.20" cy="186.70" r="2.75" fill="#F7A960" stroke="#64442a" stroke-width="1.05"/>
<circle cx="520.20" cy="182.40" r="2.75" fill="#F7A960" stroke="#64442a" stroke-width="1.05"/>
<circle cx="523.50" cy="182.60" r="2.75" fill="#F7A960" stroke="#64442a" stroke-width="1.05"/>
<circle cx="520.20" cy="210.10" r="2.75" fill="#F7A960" stroke="#64442a" stroke-width="1.05"/>
<circle cx="526.70" cy="208.00" r="2.75" fill="#F7A960" stroke="#64442a" stroke-width="1.05"/>
<circle cx="526.20" cy="209.80" r="2.75" fill="#F7A960" stroke="#64442a" stroke-width="1.05"/>
<circle cx="532.50" cy="207.20" r="2.75" fill="#F7A960" stroke="#64442a" stroke-width="1.05"/>
<circle cx="536.40" cy="198.00" r="2.75" fill="#F7A960" stroke="#64442a" stroke-width="1.05"/>
<circle cx="539.00" cy="201.90" r="2.75" fill="#F7A960" stroke="#64442a" stroke-width="1.05"/>
<circle cx="520.90" cy="218.50" r="2.75" fill="#F7A960" stroke="#64442a" stroke-width="1.05"/>
<rect x="475.45" y="191.15" width="5.1" height="5.1" fill="#B7C2EE" stroke="#3a4266" stroke-width="0.95"/>
<rect x="499.35" y="178.35" width="5.1" height="5.1" fill="#B7C2EE" stroke="#3a4266" stroke-width="0.95"/>
<rect x="507.35" y="177.15" width="5.1" height="5.1" fill="#B7C2EE" stroke="#3a4266" stroke-width="0.95"/>
<rect x="504.85" y="190.05" width="5.1" height="5.1" fill="#B7C2EE" stroke="#3a4266" stroke-width="0.95"/>
<rect x="521.65" y="182.25" width="5.1" height="5.1" fill="#B7C2EE" stroke="#3a4266" stroke-width="0.95"/>
<rect x="532.95" y="214.75" width="5.1" height="5.1" fill="#B7C2EE" stroke="#3a4266" stroke-width="0.95"/>
<rect x="547.85" y="201.95" width="5.1" height="5.1" fill="#B7C2EE" stroke="#3a4266" stroke-width="0.95"/>
<rect x="498.25" y="233.15" width="5.1" height="5.1" fill="#B7C2EE" stroke="#3a4266" stroke-width="0.95"/>
<rect x="544.65" y="178.25" width="5.1" height="5.1" fill="#B7C2EE" stroke="#3a4266" stroke-width="0.95"/>
<rect x="571.75" y="172.15" width="5.1" height="5.1" fill="#B7C2EE" stroke="#3a4266" stroke-width="0.95"/>
<rect x="572.15" y="192.85" width="5.1" height="5.1" fill="#B7C2EE" stroke="#3a4266" stroke-width="0.95"/>
<rect x="589.55" y="205.45" width="5.1" height="5.1" fill="#B7C2EE" stroke="#3a4266" stroke-width="0.95"/>
<rect x="565.65" y="215.05" width="5.1" height="5.1" fill="#B7C2EE" stroke="#3a4266" stroke-width="0.95"/>
<rect x="663.15" y="224.85" width="5.1" height="5.1" fill="#B7C2EE" stroke="#3a4266" stroke-width="0.95"/>
<path d="M409.50,243.40v-2.7M409.50,150.45v2.7M447.77,243.40v-2.7M447.77,150.45v2.7M486.04,243.40v-2.7M486.04,150.45v2.7M524.31,243.40v-2.7M524.31,150.45v2.7M562.59,243.40v-2.7M562.59,150.45v2.7M600.86,243.40v-2.7M600.86,150.45v2.7M639.13,243.40v-2.7M639.13,150.45v2.7M677.40,243.40v-2.7M677.40,150.45v2.7M409.50,243.40h2.7M677.40,243.40h-2.7M409.50,220.16h2.7M677.40,220.16h-2.7M409.50,196.93h2.7M677.40,196.93h-2.7M409.50,173.69h2.7M677.40,173.69h-2.7M409.50,150.45h2.7M677.40,150.45h-2.7" stroke="#4a4a4a" stroke-width="1.05" fill="none"/>
<rect x="409.50" y="150.45" width="267.90" height="92.95" fill="none" stroke="#4a4a4a" stroke-width="1.05"/>
<text x="409.50" y="255.40" font-size="10.0" font-family='"Liberation Sans", sans-serif' text-anchor="middle"  textLength="10.66" lengthAdjust="spacingAndGlyphs">90</text>
<text x="447.77" y="255.40" font-size="10.0" font-family='"Liberation Sans", sans-serif' text-anchor="middle"  textLength="15.98" lengthAdjust="spacingAndGlyphs">100</text>
<text x="486.04" y="255.40" font-size="10.0" font-family='"Liberation Sans", sans-serif' text-anchor="middle"  textLength="15.98" lengthAdjust="spacingAndGlyphs">110</text>
<text x="524.31" y="255.40" font-size="10.0" font-family='"Liberation Sans", sans-serif' text-anchor="middle"  textLength="15.98" lengthAdjust="spacingAndGlyphs">120</text>
<text x="562.59" y="255.40" font-size="10.0" font-family='"Liberation Sans", sans-serif' text-anchor="middle"  textLength="15.98" lengthAdjust="spacingAndGlyphs">130</text>
<text x="600.86" y="255.40" font-size="10.0" font-family='"Liberation Sans", sans-serif' text-anchor="middle"  textLength="15.98" lengthAdjust="spacingAndGlyphs">140</text>
<text x="639.13" y="255.40" font-size="10.0" font-family='"Liberation Sans", sans-serif' text-anchor="middle"  textLength="15.98" lengthAdjust="spacingAndGlyphs">150</text>
<text x="677.40" y="255.40" font-size="10.0" font-family='"Liberation Sans", sans-serif' text-anchor="middle"  textLength="15.98" lengthAdjust="spacingAndGlyphs">160</text>
<text x="406.30" y="246.70" font-size="10.0" font-family='"Liberation Sans", sans-serif' text-anchor="end"  textLength="16.25" lengthAdjust="spacingAndGlyphs">−10</text>
<text x="406.30" y="223.46" font-size="10.0" font-family='"Liberation Sans", sans-serif' text-anchor="end"  textLength="10.92" lengthAdjust="spacingAndGlyphs">−5</text>
<text x="406.30" y="200.23" font-size="10.0" font-family='"Liberation Sans", sans-serif' text-anchor="end"  textLength="5.33" lengthAdjust="spacingAndGlyphs">0</text>
<text x="406.30" y="176.99" font-size="10.0" font-family='"Liberation Sans", sans-serif' text-anchor="end"  textLength="5.33" lengthAdjust="spacingAndGlyphs">5</text>
<text x="406.30" y="153.75" font-size="10.0" font-family='"Liberation Sans", sans-serif' text-anchor="end"  textLength="10.66" lengthAdjust="spacingAndGlyphs">10</text>
<text x="543.45" y="267.30" font-size="11.5" font-family='"Liberation Serif", serif' text-anchor="middle" >Average of perimeter with 6 and 18 views, mm</text>
<text transform="translate(358.20,196.93) rotate(-90)" font-size="11.5" font-family='"Liberation Serif", serif' text-anchor="middle">Difference of</text>
<text transform="translate(370.70,196.93) rotate(-90)" font-size="11.5" font-family='"Liberation Serif", serif' text-anchor="middle">perimeter with 6</text>
<text transform="translate(383.50,196.93) rotate(-90)" font-size="11.5" font-family='"Liberation Serif", serif' text-anchor="middle">and 18 views, mm</text>
<line x1="407.50" y1="344.45" x2="677.30" y2="344.45" stroke="#111" stroke-width="1"/>
<line x1="407.50" y1="371.40" x2="677.30" y2="371.40" stroke="#111" stroke-width="1" stroke-dasharray="5.8,3.3,1,3.8" stroke-dashoffset="9.6"/>
<line x1="407.50" y1="318.10" x2="677.30" y2="318.10" stroke="#111" stroke-width="1" stroke-dasharray="5.8,3.3,1,3.8" stroke-dashoffset="9.6"/>
<circle cx="507.70" cy="334.40" r="2.75" fill="#F7A960" stroke="#64442a" stroke-width="1.05"/>
<circle cx="511.80" cy="342.90" r="2.75" fill="#F7A960" stroke="#64442a" stroke-width="1.05"/>
<circle cx="513.40" cy="345.30" r="2.75" fill="#F7A960" stroke="#64442a" stroke-width="1.05"/>
<circle cx="522.20" cy="341.30" r="2.75" fill="#F7A960" stroke="#64442a" stroke-width="1.05"/>
<circle cx="531.80" cy="342.10" r="2.75" fill="#F7A960" stroke="#64442a" stroke-width="1.05"/>
<circle cx="536.60" cy="340.50" r="2.75" fill="#F7A960" stroke="#64442a" stroke-width="1.05"/>
<circle cx="537.40" cy="333.00" r="2.75" fill="#F7A960" stroke="#64442a" stroke-width="1.05"/>
<circle cx="539.90" cy="338.10" r="2.75" fill="#F7A960" stroke="#64442a" stroke-width="1.05"/>
<circle cx="545.50" cy="337.30" r="2.75" fill="#F7A960" stroke="#64442a" stroke-width="1.05"/>
<circle cx="543.10" cy="348.50" r="2.75" fill="#F7A960" stroke="#64442a" stroke-width="1.05"/>
<circle cx="532.30" cy="363.50" r="2.75" fill="#F7A960" stroke="#64442a" stroke-width="1.05"/>
<circle cx="540.30" cy="364.60" r="2.75" fill="#F7A960" stroke="#64442a" stroke-width="1.05"/>
<circle cx="567.90" cy="341.50" r="2.75" fill="#F7A960" stroke="#64442a" stroke-width="1.05"/>
<circle cx="569.60" cy="338.90" r="2.75" fill="#F7A960" stroke="#64442a" stroke-width="1.05"/>
<circle cx="575.80" cy="337.20" r="2.75" fill="#F7A960" stroke="#64442a" stroke-width="1.05"/>
<rect x="500.35" y="339.25" width="5.1" height="5.1" fill="#B7C2EE" stroke="#3a4266" stroke-width="0.95"/>
<rect x="519.65" y="338.75" width="5.1" height="5.1" fill="#B7C2EE" stroke="#3a4266" stroke-width="0.95"/>
<rect x="533.25" y="322.35" width="5.1" height="5.1" fill="#B7C2EE" stroke="#3a4266" stroke-width="0.95"/>
<rect x="544.55" y="325.15" width="5.1" height="5.1" fill="#B7C2EE" stroke="#3a4266" stroke-width="0.95"/>
<rect x="553.05" y="328.85" width="5.1" height="5.1" fill="#B7C2EE" stroke="#3a4266" stroke-width="0.95"/>
<rect x="550.15" y="339.55" width="5.1" height="5.1" fill="#B7C2EE" stroke="#3a4266" stroke-width="0.95"/>
<rect x="546.15" y="344.05" width="5.1" height="5.1" fill="#B7C2EE" stroke="#3a4266" stroke-width="0.95"/>
<rect x="550.95" y="345.95" width="5.1" height="5.1" fill="#B7C2EE" stroke="#3a4266" stroke-width="0.95"/>
<rect x="566.55" y="317.05" width="5.1" height="5.1" fill="#B7C2EE" stroke="#3a4266" stroke-width="0.95"/>
<rect x="564.45" y="351.55" width="5.1" height="5.1" fill="#B7C2EE" stroke="#3a4266" stroke-width="0.95"/>
<rect x="571.15" y="346.85" width="5.1" height="5.1" fill="#B7C2EE" stroke="#3a4266" stroke-width="0.95"/>
<rect x="480.95" y="368.15" width="5.1" height="5.1" fill="#B7C2EE" stroke="#3a4266" stroke-width="0.95"/>
<rect x="460.25" y="380.45" width="5.1" height="5.1" fill="#B7C2EE" stroke="#3a4266" stroke-width="0.95"/>
<rect x="649.75" y="358.75" width="5.1" height="5.1" fill="#B7C2EE" stroke="#3a4266" stroke-width="0.95"/>
<path d="M407.50,389.90v-2.7M407.50,297.30v2.7M497.43,389.90v-2.7M497.43,297.30v2.7M587.37,389.90v-2.7M587.37,297.30v2.7M677.30,389.90v-2.7M677.30,297.30v2.7M407.50,389.90h2.7M677.30,389.90h-2.7M407.50,366.75h2.7M677.30,366.75h-2.7M407.50,343.60h2.7M677.30,343.60h-2.7M407.50,320.45h2.7M677.30,320.45h-2.7M407.50,297.30h2.7M677.30,297.30h-2.7" stroke="#4a4a4a" stroke-width="1.05" fill="none"/>
<rect x="407.50" y="297.30" width="269.80" height="92.60" fill="none" stroke="#4a4a4a" stroke-width="1.05"/>
<text x="407.50" y="401.90" font-size="10.0" font-family='"Liberation Sans", sans-serif' text-anchor="middle"  textLength="10.66" lengthAdjust="spacingAndGlyphs">15</text>
<text x="497.43" y="401.90" font-size="10.0" font-family='"Liberation Sans", sans-serif' text-anchor="middle"  textLength="10.66" lengthAdjust="spacingAndGlyphs">25</text>
<text x="587.37" y="401.90" font-size="10.0" font-family='"Liberation Sans", sans-serif' text-anchor="middle"  textLength="10.66" lengthAdjust="spacingAndGlyphs">35</text>
<text x="677.30" y="401.90" font-size="10.0" font-family='"Liberation Sans", sans-serif' text-anchor="middle"  textLength="10.66" lengthAdjust="spacingAndGlyphs">45</text>
<text x="404.30" y="393.20" font-size="10.0" font-family='"Liberation Sans", sans-serif' text-anchor="end"  textLength="10.92" lengthAdjust="spacingAndGlyphs">−4</text>
<text x="404.30" y="370.05" font-size="10.0" font-family='"Liberation Sans", sans-serif' text-anchor="end"  textLength="10.92" lengthAdjust="spacingAndGlyphs">−2</text>
<text x="404.30" y="346.90" font-size="10.0" font-family='"Liberation Sans", sans-serif' text-anchor="end"  textLength="5.33" lengthAdjust="spacingAndGlyphs">0</text>
<text x="404.30" y="323.75" font-size="10.0" font-family='"Liberation Sans", sans-serif' text-anchor="end"  textLength="5.33" lengthAdjust="spacingAndGlyphs">2</text>
<text x="404.30" y="300.60" font-size="10.0" font-family='"Liberation Sans", sans-serif' text-anchor="end"  textLength="5.33" lengthAdjust="spacingAndGlyphs">4</text>
<text x="542.40" y="413.80" font-size="11.5" font-family='"Liberation Serif", serif' text-anchor="middle" >Average of AP diameter with 6 and 18 views, mm</text>
<text transform="translate(361.80,343.60) rotate(-90)" font-size="11.5" font-family='"Liberation Serif", serif' text-anchor="middle">Difference of AP</text>
<text transform="translate(374.60,343.60) rotate(-90)" font-size="11.5" font-family='"Liberation Serif", serif' text-anchor="middle">diameter with 6</text>
<text transform="translate(387.40,343.60) rotate(-90)" font-size="11.5" font-family='"Liberation Serif", serif' text-anchor="middle">and 18 views, mm</text>
<line x1="407.50" y1="491.60" x2="677.30" y2="491.60" stroke="#111" stroke-width="1"/>
<line x1="407.50" y1="520.50" x2="677.30" y2="520.50" stroke="#111" stroke-width="1" stroke-dasharray="5.8,3.3,1,3.8" stroke-dashoffset="9.6"/>
<line x1="407.50" y1="462.70" x2="677.30" y2="462.70" stroke="#111" stroke-width="1" stroke-dasharray="5.8,3.3,1,3.8" stroke-dashoffset="9.6"/>
<circle cx="515.00" cy="490.10" r="2.75" fill="#F7A960" stroke="#64442a" stroke-width="1.05"/>
<circle cx="524.60" cy="490.10" r="2.75" fill="#F7A960" stroke="#64442a" stroke-width="1.05"/>
<circle cx="532.60" cy="482.90" r="2.75" fill="#F7A960" stroke="#64442a" stroke-width="1.05"/>
<circle cx="532.60" cy="489.80" r="2.75" fill="#F7A960" stroke="#64442a" stroke-width="1.05"/>
<circle cx="519.50" cy="499.10" r="2.75" fill="#F7A960" stroke="#64442a" stroke-width="1.05"/>
<circle cx="528.60" cy="498.20" r="2.75" fill="#F7A960" stroke="#64442a" stroke-width="1.05"/>
<circle cx="530.20" cy="507.80" r="2.75" fill="#F7A960" stroke="#64442a" stroke-width="1.05"/>
<circle cx="519.00" cy="509.90" r="2.75" fill="#F7A960" stroke="#64442a" stroke-width="1.05"/>
<circle cx="544.70" cy="500.60" r="2.75" fill="#F7A960" stroke="#64442a" stroke-width="1.05"/>
<circle cx="554.30" cy="492.60" r="2.75" fill="#F7A960" stroke="#64442a" stroke-width="1.05"/>
<circle cx="562.70" cy="520.80" r="2.75" fill="#F7A960" stroke="#64442a" stroke-width="1.05"/>
<circle cx="573.80" cy="467.10" r="2.75" fill="#F7A960" stroke="#64442a" stroke-width="1.05"/>
<circle cx="582.80" cy="470.70" r="2.75" fill="#F7A960" stroke="#64442a" stroke-width="1.05"/>
<circle cx="577.00" cy="476.40" r="2.75" fill="#F7A960" stroke="#64442a" stroke-width="1.05"/>
<circle cx="577.80" cy="483.80" r="2.75" fill="#F7A960" stroke="#64442a" stroke-width="1.05"/>
<circle cx="579.00" cy="492.50" r="2.75" fill="#F7A960" stroke="#64442a" stroke-width="1.05"/>
<rect x="473.85" y="485.95" width="5.1" height="5.1" fill="#B7C2EE" stroke="#3a4266" stroke-width="0.95"/>
<rect x="492.35" y="468.85" width="5.1" height="5.1" fill="#B7C2EE" stroke="#3a4266" stroke-width="0.95"/>
<rect x="520.45" y="459.15" width="5.1" height="5.1" fill="#B7C2EE" stroke="#3a4266" stroke-width="0.95"/>
<rect x="518.85" y="474.75" width="5.1" height="5.1" fill="#B7C2EE" stroke="#3a4266" stroke-width="0.95"/>
<rect x="516.45" y="487.25" width="5.1" height="5.1" fill="#B7C2EE" stroke="#3a4266" stroke-width="0.95"/>
<rect x="537.35" y="484.35" width="5.1" height="5.1" fill="#B7C2EE" stroke="#3a4266" stroke-width="0.95"/>
<rect x="538.15" y="493.25" width="5.1" height="5.1" fill="#B7C2EE" stroke="#3a4266" stroke-width="0.95"/>
<rect x="528.45" y="500.45" width="5.1" height="5.1" fill="#B7C2EE" stroke="#3a4266" stroke-width="0.95"/>
<rect x="526.55" y="511.65" width="5.1" height="5.1" fill="#B7C2EE" stroke="#3a4266" stroke-width="0.95"/>
<rect x="551.75" y="493.55" width="5.1" height="5.1" fill="#B7C2EE" stroke="#3a4266" stroke-width="0.95"/>
<rect x="548.05" y="514.05" width="5.1" height="5.1" fill="#B7C2EE" stroke="#3a4266" stroke-width="0.95"/>
<rect x="568.95" y="471.25" width="5.1" height="5.1" fill="#B7C2EE" stroke="#3a4266" stroke-width="0.95"/>
<rect x="651.15" y="496.55" width="5.1" height="5.1" fill="#B7C2EE" stroke="#3a4266" stroke-width="0.95"/>
<path d="M407.50,537.30v-2.7M407.50,443.45v2.7M497.43,537.30v-2.7M497.43,443.45v2.7M587.37,537.30v-2.7M587.37,443.45v2.7M677.30,537.30v-2.7M677.30,443.45v2.7M407.50,537.30h2.7M677.30,537.30h-2.7M407.50,513.84h2.7M677.30,513.84h-2.7M407.50,490.38h2.7M677.30,490.38h-2.7M407.50,466.91h2.7M677.30,466.91h-2.7M407.50,443.45h2.7M677.30,443.45h-2.7" stroke="#4a4a4a" stroke-width="1.05" fill="none"/>
<rect x="407.50" y="443.45" width="269.80" height="93.85" fill="none" stroke="#4a4a4a" stroke-width="1.05"/>
<text x="407.50" y="549.30" font-size="10.0" font-family='"Liberation Sans", sans-serif' text-anchor="middle"  textLength="10.66" lengthAdjust="spacingAndGlyphs">20</text>
<text x="497.43" y="549.30" font-size="10.0" font-family='"Liberation Sans", sans-serif' text-anchor="middle"  textLength="10.66" lengthAdjust="spacingAndGlyphs">30</text>
<text x="587.37" y="549.30" font-size="10.0" font-family='"Liberation Sans", sans-serif' text-anchor="middle"  textLength="10.66" lengthAdjust="spacingAndGlyphs">40</text>
<text x="677.30" y="549.30" font-size="10.0" font-family='"Liberation Sans", sans-serif' text-anchor="middle"  textLength="10.66" lengthAdjust="spacingAndGlyphs">50</text>
<text x="404.30" y="540.60" font-size="10.0" font-family='"Liberation Sans", sans-serif' text-anchor="end"  textLength="10.92" lengthAdjust="spacingAndGlyphs">−3</text>
<text x="404.30" y="517.14" font-size="10.0" font-family='"Liberation Sans", sans-serif' text-anchor="end"  textLength="18.91" lengthAdjust="spacingAndGlyphs">−1.5</text>
<text x="404.30" y="493.68" font-size="10.0" font-family='"Liberation Sans", sans-serif' text-anchor="end"  textLength="5.33" lengthAdjust="spacingAndGlyphs">0</text>
<text x="404.30" y="470.21" font-size="10.0" font-family='"Liberation Sans", sans-serif' text-anchor="end"  textLength="13.32" lengthAdjust="spacingAndGlyphs">1.5</text>
<text x="404.30" y="446.75" font-size="10.0" font-family='"Liberation Sans", sans-serif' text-anchor="end"  textLength="5.33" lengthAdjust="spacingAndGlyphs">3</text>
<text x="542.40" y="561.20" font-size="11.5" font-family='"Liberation Serif", serif' text-anchor="middle" >Average of IC diameter with 6 and 18 views, mm</text>
<text transform="translate(353.90,490.38) rotate(-90)" font-size="11.5" font-family='"Liberation Serif", serif' text-anchor="middle">Difference of IC</text>
<text transform="translate(366.70,490.38) rotate(-90)" font-size="11.5" font-family='"Liberation Serif", serif' text-anchor="middle">diameter with 6</text>
<text transform="translate(378.90,490.38) rotate(-90)" font-size="11.5" font-family='"Liberation Serif", serif' text-anchor="middle">and 18 views, mm</text>
<line x1="408.50" y1="635.95" x2="677.30" y2="635.95" stroke="#111" stroke-width="1"/>
<line x1="408.50" y1="666.30" x2="677.30" y2="666.30" stroke="#111" stroke-width="1" stroke-dasharray="5.8,3.3,1,3.8" stroke-dashoffset="9.6"/>
<line x1="408.50" y1="606.40" x2="677.30" y2="606.40" stroke="#111" stroke-width="1" stroke-dasharray="5.8,3.3,1,3.8" stroke-dashoffset="9.6"/>
<circle cx="458.90" cy="635.90" r="2.75" fill="#F7A960" stroke="#64442a" stroke-width="1.05"/>
<circle cx="506.60" cy="616.80" r="2.75" fill="#F7A960" stroke="#64442a" stroke-width="1.05"/>
<circle cx="510.60" cy="622.10" r="2.75" fill="#F7A960" stroke="#64442a" stroke-width="1.05"/>
<circle cx="505.20" cy="628.20" r="2.75" fill="#F7A960" stroke="#64442a" stroke-width="1.05"/>
<circle cx="530.20" cy="611.50" r="2.75" fill="#F7A960" stroke="#64442a" stroke-width="1.05"/>
<circle cx="531.10" cy="642.90" r="2.75" fill="#F7A960" stroke="#64442a" stroke-width="1.05"/>
<circle cx="538.60" cy="647.30" r="2.75" fill="#F7A960" stroke="#64442a" stroke-width="1.05"/>
<circle cx="541.30" cy="648.30" r="2.75" fill="#F7A960" stroke="#64442a" stroke-width="1.05"/>
<circle cx="547.20" cy="640.60" r="2.75" fill="#F7A960" stroke="#64442a" stroke-width="1.05"/>
<circle cx="507.10" cy="655.70" r="2.75" fill="#F7A960" stroke="#64442a" stroke-width="1.05"/>
<circle cx="546.50" cy="666.00" r="2.75" fill="#F7A960" stroke="#64442a" stroke-width="1.05"/>
<circle cx="567.60" cy="625.20" r="2.75" fill="#F7A960" stroke="#64442a" stroke-width="1.05"/>
<circle cx="582.30" cy="645.20" r="2.75" fill="#F7A960" stroke="#64442a" stroke-width="1.05"/>
<circle cx="602.90" cy="637.00" r="2.75" fill="#F7A960" stroke="#64442a" stroke-width="1.05"/>
<circle cx="604.40" cy="614.50" r="2.75" fill="#F7A960" stroke="#64442a" stroke-width="1.05"/>
<circle cx="632.00" cy="630.90" r="2.75" fill="#F7A960" stroke="#64442a" stroke-width="1.05"/>
<rect x="487.95" y="617.25" width="5.1" height="5.1" fill="#B7C2EE" stroke="#3a4266" stroke-width="0.95"/>
<rect x="518.05" y="619.35" width="5.1" height="5.1" fill="#B7C2EE" stroke="#3a4266" stroke-width="0.95"/>
<rect x="529.75" y="624.75" width="5.1" height="5.1" fill="#B7C2EE" stroke="#3a4266" stroke-width="0.95"/>
<rect x="518.95" y="631.25" width="5.1" height="5.1" fill="#B7C2EE" stroke="#3a4266" stroke-width="0.95"/>
<rect x="546.55" y="631.25" width="5.1" height="5.1" fill="#B7C2EE" stroke="#3a4266" stroke-width="0.95"/>
<rect x="528.25" y="649.15" width="5.1" height="5.1" fill="#B7C2EE" stroke="#3a4266" stroke-width="0.95"/>
<rect x="501.35" y="660.65" width="5.1" height="5.1" fill="#B7C2EE" stroke="#3a4266" stroke-width="0.95"/>
<rect x="556.95" y="613.65" width="5.1" height="5.1" fill="#B7C2EE" stroke="#3a4266" stroke-width="0.95"/>
<rect x="567.65" y="636.05" width="5.1" height="5.1" fill="#B7C2EE" stroke="#3a4266" stroke-width="0.95"/>
<rect x="572.65" y="631.35" width="5.1" height="5.1" fill="#B7C2EE" stroke="#3a4266" stroke-width="0.95"/>
<rect x="587.55" y="628.75" width="5.1" height="5.1" fill="#B7C2EE" stroke="#3a4266" stroke-width="0.95"/>
<rect x="608.55" y="647.15" width="5.1" height="5.1" fill="#B7C2EE" stroke="#3a4266" stroke-width="0.95"/>
<rect x="612.05" y="663.65" width="5.1" height="5.1" fill="#B7C2EE" stroke="#3a4266" stroke-width="0.95"/>
<rect x="664.75" y="622.65" width="5.1" height="5.1" fill="#B7C2EE" stroke="#3a4266" stroke-width="0.95"/>
<path d="M408.50,684.30v-2.7M408.50,592.40v2.7M498.10,684.30v-2.7M498.10,592.40v2.7M587.70,684.30v-2.7M587.70,592.40v2.7M677.30,684.30v-2.7M677.30,592.40v2.7M408.50,684.30h2.7M677.30,684.30h-2.7M408.50,661.32h2.7M677.30,661.32h-2.7M408.50,638.35h2.7M677.30,638.35h-2.7M408.50,615.38h2.7M677.30,615.38h-2.7M408.50,592.40h2.7M677.30,592.40h-2.7" stroke="#4a4a4a" stroke-width="1.05" fill="none"/>
<rect x="408.50" y="592.40" width="268.80" height="91.90" fill="none" stroke="#4a4a4a" stroke-width="1.05"/>
<text x="408.50" y="696.30" font-size="10.0" font-family='"Liberation Sans", sans-serif' text-anchor="middle"  textLength="5.33" lengthAdjust="spacingAndGlyphs">3</text>
<text x="498.10" y="696.30" font-size="10.0" font-family='"Liberation Sans", sans-serif' text-anchor="middle"  textLength="5.33" lengthAdjust="spacingAndGlyphs">6</text>
<text x="587.70" y="696.30" font-size="10.0" font-family='"Liberation Sans", sans-serif' text-anchor="middle"  textLength="5.33" lengthAdjust="spacingAndGlyphs">9</text>
<text x="677.30" y="696.30" font-size="10.0" font-family='"Liberation Sans", sans-serif' text-anchor="middle"  textLength="10.66" lengthAdjust="spacingAndGlyphs">12</text>
<text x="405.30" y="687.60" font-size="10.0" font-family='"Liberation Sans", sans-serif' text-anchor="end"  textLength="10.92" lengthAdjust="spacingAndGlyphs">−3</text>
<text x="405.30" y="664.62" font-size="10.0" font-family='"Liberation Sans", sans-serif' text-anchor="end"  textLength="18.91" lengthAdjust="spacingAndGlyphs">−1.5</text>
<text x="405.30" y="641.65" font-size="10.0" font-family='"Liberation Sans", sans-serif' text-anchor="end"  textLength="5.33" lengthAdjust="spacingAndGlyphs">0</text>
<text x="405.30" y="618.67" font-size="10.0" font-family='"Liberation Sans", sans-serif' text-anchor="end"  textLength="13.32" lengthAdjust="spacingAndGlyphs">1.5</text>
<text x="405.30" y="595.70" font-size="10.0" font-family='"Liberation Sans", sans-serif' text-anchor="end"  textLength="5.33" lengthAdjust="spacingAndGlyphs">3</text>
<text x="542.90" y="708.20" font-size="11.5" font-family='"Liberation Serif", serif' text-anchor="middle" >Average of height with 6 and 18 views, mm</text>
<text transform="translate(354.20,638.35) rotate(-90)" font-size="11.5" font-family='"Liberation Serif", serif' text-anchor="middle">Difference of height</text>
<text transform="translate(366.70,638.35) rotate(-90)" font-size="11.5" font-family='"Liberation Serif", serif' text-anchor="middle">with 6 and</text>
<text transform="translate(379.80,638.35) rotate(-90)" font-size="11.5" font-family='"Liberation Serif", serif' text-anchor="middle">18 views, mm</text>
</svg>
</body></html>
